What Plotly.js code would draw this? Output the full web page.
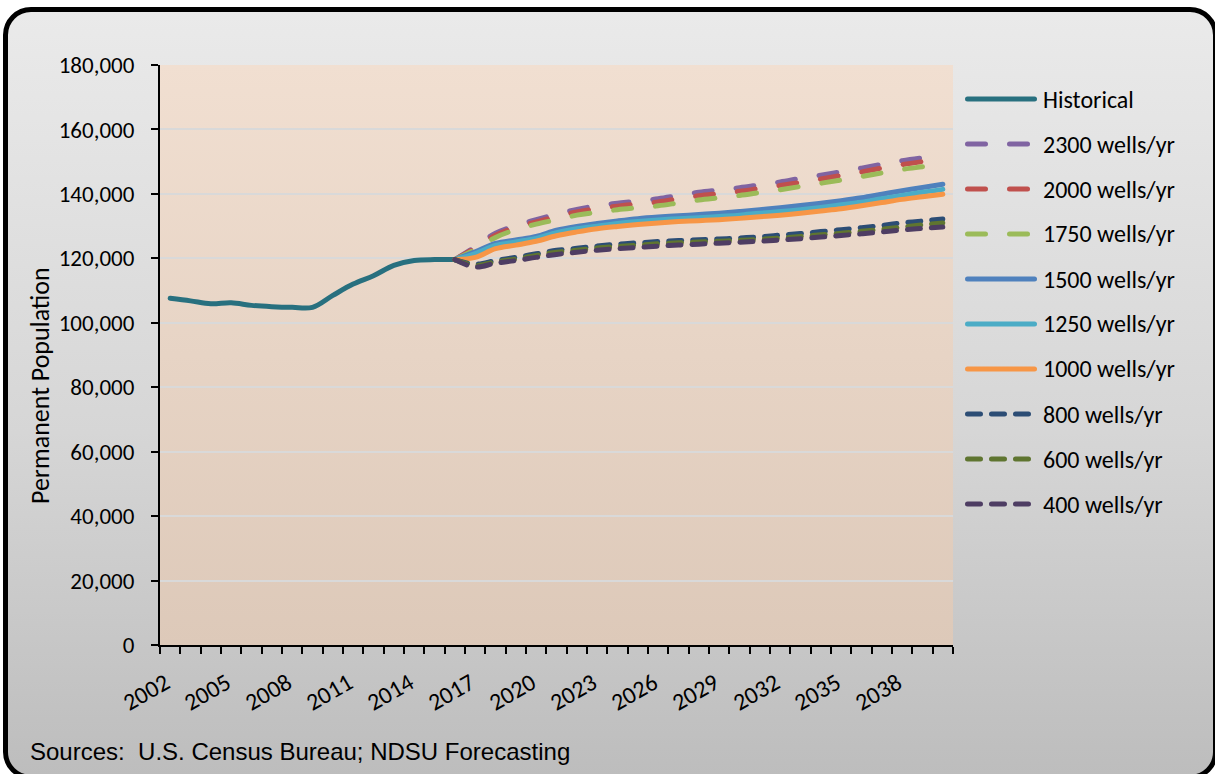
<!DOCTYPE html>
<html>
<head>
<meta charset="utf-8">
<script src="https://cdn.plot.ly/plotly-3.0.1.min.js"></script>
<style>
  html, body { margin: 0; padding: 0; width: 1215px; height: 774px; overflow: hidden; background: #ffffff; }
  #frame {
    position: absolute; left: 3px; top: 7px; width: 1205px; height: 763px;
    border: 5px solid #000; border-radius: 28px;
    background: linear-gradient(to bottom, #EAEAEA 0%, #D6D6D6 55%, #BDBDBD 100%);
  }
  #plotbg {
    position: absolute; left: 160px; top: 65px; width: 793px; height: 580px;
    background: linear-gradient(to bottom, #F1DFD1 0%, #DDC9B9 100%);
  }
  #chart { position: absolute; left: 0; top: 0; width: 1215px; height: 774px; }
  .js-line, .shapelayer path { stroke-linecap: round !important; stroke-linejoin: round !important; }
</style>
</head>
<body>
<div id="frame"></div>
<div id="plotbg"></div>
<div id="chart"></div>
<script>
// Permanent population, historical estimates and drilling-scenario forecasts
const histYears = [2002, 2003, 2004, 2005, 2006, 2007, 2008, 2009, 2010, 2011, 2012, 2013, 2014, 2015, 2016];
const historical = [107600, 106800, 105900, 106200, 105400, 105000, 104800, 104800, 108500, 112000, 114600, 117800, 119300, 119600, 119600];

const forecastYears = [2016, 2017, 2018, 2019, 2020, 2021, 2022, 2023, 2024, 2025, 2026, 2027, 2028,
                       2029, 2030, 2031, 2032, 2033, 2034, 2035, 2036, 2037, 2038, 2039, 2040];

const wells2300 = [119600, 123600, 127800, 130200, 132000, 133700, 135200, 136300, 137100, 137800, 138500, 139500, 140500,
                   141200, 141900, 142800, 143700, 144800, 145800, 146900, 148000, 149200, 150300, 151200, 152000];
const wells2000 = [119600, 123200, 127200, 129600, 131300, 132900, 134400, 135400, 136200, 136900, 137500, 138500, 139400,
                   140100, 140800, 141700, 142600, 143600, 144600, 145700, 146800, 148000, 149100, 150000, 150800];
const wells1750 = [119600, 122700, 126500, 128900, 130600, 132000, 133400, 134300, 135100, 135700, 136300, 137200, 138100,
                   138800, 139500, 140400, 141300, 142300, 143300, 144300, 145400, 146500, 147600, 148400, 149200];
const wells1500 = [119600, 122000, 124600, 125700, 126800, 128700, 129900, 130800, 131600, 132300, 132800, 133200, 133600,
                   134000, 134500, 135100, 135700, 136400, 137100, 137900, 138800, 139900, 141000, 142000, 143000];
const wells1250 = [119600, 121500, 124000, 125100, 126200, 128000, 129200, 130000, 130800, 131400, 131900, 132300, 132600,
                   133000, 133400, 134000, 134500, 135100, 135800, 136600, 137400, 138500, 139500, 140500, 141400];
const wells1000 = [119600, 120300, 123000, 124100, 125300, 127000, 128200, 129200, 129900, 130500, 131000, 131400, 131700,
                   132000, 132400, 132900, 133400, 134000, 134700, 135400, 136300, 137300, 138300, 139100, 139900];
const wells800  = [119600, 118200, 119300, 120300, 121400, 122500, 123100, 123800, 124400, 124800, 125200, 125500, 125800,
                   126000, 126300, 126700, 127200, 127700, 128300, 128900, 129500, 130200, 131000, 131600, 132200];
const wells600  = [119600, 117800, 118900, 119800, 120900, 121900, 122500, 123200, 123700, 124100, 124500, 124800, 125100,
                   125300, 125600, 125900, 126300, 126800, 127300, 127800, 128400, 129000, 129700, 130400, 131000];
const wells400  = [119600, 117300, 118500, 119300, 120300, 121200, 121900, 122500, 123000, 123400, 123800, 124100, 124400,
                   124700, 125000, 125300, 125700, 126100, 126600, 127100, 127600, 128200, 128800, 129300, 129700];

const seriesNames = ['Historical', '2300 wells/yr', '2000 wells/yr', '1750 wells/yr', '1500 wells/yr',
                     '1250 wells/yr', '1000 wells/yr', '800 wells/yr', '600 wells/yr', '400 wells/yr'];
const tickYears = [2002, 2005, 2008, 2011, 2014, 2017, 2020, 2023, 2026, 2029, 2032, 2035, 2038];
const yTicks = [0, 20000, 40000, 60000, 80000, 100000, 120000, 140000, 160000, 180000];

// styling per series
const colors = ['#28707F', '#8064A2', '#C0504D', '#9BBB59', '#4F81BD', '#4BACC6', '#F79646', '#2C4D75', '#5F7530', '#4E3D63'];
const longDash = '18px,24px';
const shortDash = '13px,11px';
const dashes = ['solid', longDash, longDash, longDash, 'solid', 'solid', 'solid', shortDash, shortDash, shortDash];
const forecasts = [wells2300, wells2000, wells1750, wells1500, wells1250, wells1000, wells800, wells600, wells400];

const FONT = 'Carlito, Lato, sans-serif';
const FS = 24;
const LW = 5;

const traces = [{
  x: histYears, y: historical, name: seriesNames[0], type: 'scatter', mode: 'lines',
  line: { color: colors[0], width: LW, shape: 'spline', smoothing: 1 }, hoverinfo: 'skip'
}];
forecasts.forEach((vals, i) => {
  traces.push({
    x: forecastYears, y: vals, name: seriesNames[i + 1], type: 'scatter', mode: 'lines',
    line: { color: colors[i + 1], width: LW, dash: dashes[i + 1], shape: 'spline', smoothing: 1 },
    hoverinfo: 'skip'
  });
});

// legend drawn at the right of the plot area (paper coordinates)
const plotLeft = 160, plotTop = 65, plotW = 793, plotH = 580;
const px2x = p => (p - plotLeft) / plotW;
const px2y = p => (plotTop + plotH - p) / plotH;
const shapes = [], annotations = [];
seriesNames.forEach((name, i) => {
  const yy = px2y(99 + 45 * i);
  let x1 = 1034.5;
  if (dashes[i] === longDash) x1 = 1027.5;
  if (dashes[i] === shortDash) x1 = 1028.5;
  shapes.push({
    type: 'line', xref: 'paper', yref: 'paper', x0: px2x(967.5), x1: px2x(x1), y0: yy, y1: yy,
    line: { color: colors[i], width: LW, dash: dashes[i] }
  });
  annotations.push({
    xref: 'paper', yref: 'paper', x: px2x(1041), y: yy, xanchor: 'left', yanchor: 'middle',
    text: name, showarrow: false, font: { family: FONT, size: FS, color: '#000' }
  });
});
// vertical axis title, centred on the chart area
annotations.push({
  xref: 'paper', yref: 'paper', x: px2x(40), y: px2y(386), xanchor: 'center', yanchor: 'middle',
  text: 'Permanent Population', textangle: -90, showarrow: false,
  font: { family: FONT, size: 26, color: '#000' }
});
annotations.push({
  xref: 'paper', yref: 'paper', x: px2x(28), y: px2y(751), xanchor: 'left', yanchor: 'middle',
  text: 'Sources:  U.S. Census Bureau; NDSU Forecasting', showarrow: false,
  font: { family: 'Liberation Sans, Arial, sans-serif', size: 24, color: '#000' }
});

const layout = {
  width: 1215, height: 774,
  margin: { l: plotLeft, r: 1215 - plotLeft - plotW, t: plotTop, b: 774 - plotTop - plotH, pad: 0 },
  paper_bgcolor: 'rgba(0,0,0,0)', plot_bgcolor: 'rgba(0,0,0,0)',
  showlegend: false,
  font: { family: FONT, size: FS, color: '#000' },
  xaxis: {
    type: 'linear', range: [2001.5, 2040.5], automargin: false,
    tickmode: 'array', tickvals: tickYears, ticktext: tickYears.map(y => y + '\u00a0'),
    ticks: '', tickangle: -30, ticklabelstandoff: 10,
    minor: { tick0: 2001.5, dtick: 1, ticks: 'outside', ticklen: 7, tickwidth: 2, tickcolor: '#000', showgrid: false },
    showline: true, linecolor: '#000', linewidth: 2, showgrid: false, zeroline: false,
    tickfont: { family: FONT, size: FS, color: '#000' }
  },
  yaxis: {
    range: [0, 180000], automargin: false, tickmode: 'array', tickvals: yTicks,
    tickformat: ',d', ticks: 'outside', ticklen: 7, tickwidth: 2, tickcolor: '#000',
    ticklabelstandoff: 12,
    showline: true, linecolor: '#000', linewidth: 2,
    showgrid: true, gridcolor: '#D9D9D9', gridwidth: 2, zeroline: false,
    tickfont: { family: FONT, size: 23, color: '#000' }
  },
  shapes: shapes,
  annotations: annotations
};

Plotly.newPlot('chart', traces, layout, { staticPlot: true, displayModeBar: false });
</script>
</body>
</html>
